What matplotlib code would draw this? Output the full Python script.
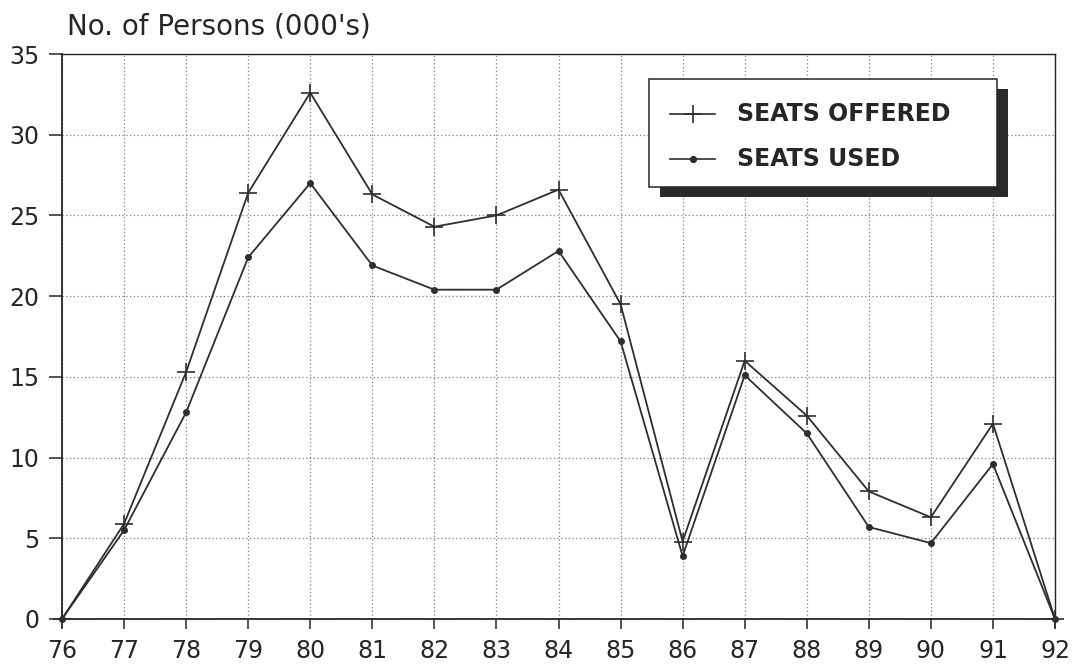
import matplotlib
matplotlib.use("Agg")
import matplotlib.pyplot as plt
from matplotlib.patches import Rectangle
from matplotlib.lines import Line2D

years = [76, 77, 78, 79, 80, 81, 82, 83, 84, 85, 86, 87, 88, 89, 90, 91, 92]
year_labels = [str(y) for y in years]
seats_offered = [0, 5.9, 15.3, 26.4, 32.6, 26.3, 24.3, 25.0, 26.6, 19.5, 4.8, 16.0, 12.6, 7.9, 6.3, 12.1, 0]
seats_used = [0, 5.5, 12.8, 22.4, 27.0, 21.9, 20.4, 20.4, 22.8, 17.2, 3.9, 15.1, 11.5, 5.7, 4.7, 9.6, 0]
y_ticks = [0, 5, 10, 15, 20, 25, 30, 35]
title = "No. of Persons (000's)"
labels = ["SEATS OFFERED", "SEATS USED"]

plt.rcParams['font.family'] = ['DejaVu Sans']

W, H = 1074, 665
fig = plt.figure(figsize=(W / 100, H / 100), dpi=100)
AX_L, AX_R, AX_T, AX_B = 62, 1055, 54, 619
ax = fig.add_axes([AX_L / W, 1 - AX_B / H, (AX_R - AX_L) / W, (AX_B - AX_T) / H])

lc = '#2e2e2e'
ax.plot(years, seats_offered, color=lc, lw=1.3, marker='+', markersize=13,
        markeredgewidth=1.2, label=labels[0], zorder=3, clip_on=False)
ax.plot(years, seats_used, color=lc, lw=1.3, marker='o', markersize=4,
        label=labels[1], zorder=3, clip_on=False)

ax.set_xlim(76, 92)
ax.set_ylim(0, 35)
ax.set_xticks(years)
ax.set_xticklabels(year_labels)
ax.set_yticks(y_ticks)
ax.tick_params(axis='both', labelsize=17, colors='#262626', direction='out')
ax.tick_params(axis='x', length=7, width=1.1, pad=7.5)
ax.tick_params(axis='y', length=9.5, width=1.1, pad=7)
ax.grid(True, color='#808080', linestyle=(0, (1, 2)), linewidth=0.9)
for name, s in ax.spines.items():
    s.set_color('#262626')
    s.set_linewidth(1.3 if name in ('left', 'bottom') else 1.0)

fig.text(67 / W, 1 - 27 / H, title, fontsize=20, color='#262626', va='center', ha='left')

# legend (custom, drawn in figure pixel coords)
lx0, ly0, lx1, ly1 = 649, 79, 997, 187
def fx(px):
    return px / W
def fy(py):
    return 1 - py / H

shadow = Rectangle((fx(lx0 + 11), fy(ly1 + 10)), fx(lx1 - lx0), (ly1 - ly0) / H,
                   transform=fig.transFigure, facecolor='#2a2a2a', edgecolor='none', zorder=5)
box = Rectangle((fx(lx0), fy(ly1)), fx(lx1 - lx0), (ly1 - ly0) / H,
                transform=fig.transFigure, facecolor='white', edgecolor='#262626', lw=1.1, zorder=6)
fig.add_artist(shadow)
fig.add_artist(box)

rows = [(114, '+', 13), (159, 'o', 4)]
for (yy, mk, ms), lab in zip(rows, labels):
    fig.add_artist(Line2D([fx(670), fx(715)], [fy(yy), fy(yy)], transform=fig.transFigure,
                          color=lc, lw=1.2, zorder=7))
    fig.add_artist(Line2D([fx(693)], [fy(yy)], transform=fig.transFigure, color=lc,
                          marker=mk, markersize=ms, markeredgewidth=1.2, zorder=7))
    fig.text(fx(737), fy(yy), lab, fontsize=17, fontweight='bold', color='#262626',
             va='center', ha='left', zorder=8)

fig.savefig('out.png', dpi=100, facecolor='white')
